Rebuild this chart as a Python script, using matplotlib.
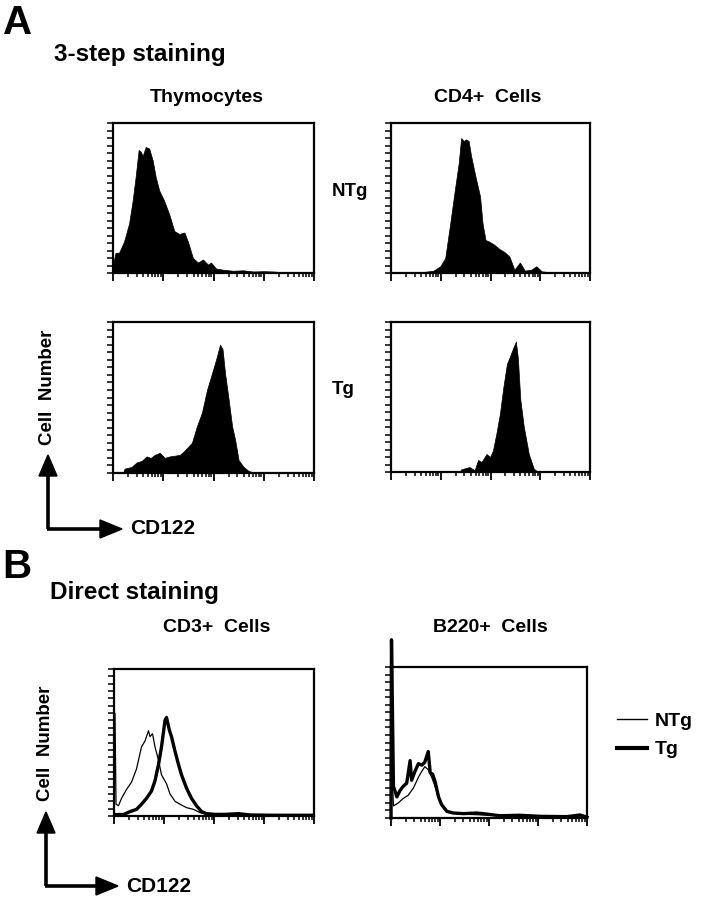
import numpy as np
import matplotlib
matplotlib.use("Agg")
import matplotlib.pyplot as plt
from matplotlib.ticker import LogLocator, NullFormatter, MultipleLocator
from matplotlib.patches import Polygon

plt.rcParams['font.family'] = ['Liberation Sans', 'DejaVu Sans']
plt.rcParams['font.weight'] = 'bold'

# ---- data: x in log decades of CD122 fluorescence, y in % of axis height ----
# A, 3-step staining
thy_ntg_x = [0, 0.05, 0.12, 0.22, 0.32, 0.39, 0.45, 0.51, 0.55, 0.59, 0.65, 0.72, 0.79, 0.85,
             0.92, 1.02, 1.12, 1.22, 1.32, 1.42, 1.49, 1.59, 1.69, 1.79, 1.89, 1.95, 2.05,
             2.19, 2.39, 2.59, 2.79, 2.99, 3.19, 3.45, 4.0]
thy_ntg_y = [5.6, 13.5, 13.5, 21, 33, 48, 64, 82, 81, 78, 84, 83, 75, 64,
             55, 48, 39, 28, 26, 27, 21, 10, 7, 9, 5.6, 7, 3,
             2.2, 1.5, 1.8, 1, 1.2, 1, 0.3, 0]

cd4_ntg_x = [0, 0.5, 0.65, 0.85, 0.99, 1.09, 1.19, 1.29, 1.36, 1.41, 1.46, 1.51, 1.56, 1.61,
             1.70, 1.79, 1.84, 1.90, 1.97, 2.07, 2.18, 2.28, 2.38, 2.48, 2.59, 2.69, 2.82,
             2.92, 3.03, 3.23, 3.5, 4.0]
cd4_ntg_y = [0, 0, 0.7, 1.5, 4.5, 10, 33, 57, 73, 90, 88, 89, 88, 78,
             64, 51, 33, 22, 21, 19, 16, 14, 11, 2.2, 7, 1.6, 2.2,
             4.5, 1.1, 0.4, 0, 0]

thy_tg_x = [0, 0.2, 0.23, 0.37, 0.47, 0.57, 0.67, 0.75, 0.83, 0.93, 1.03, 1.13, 1.33, 1.43,
            1.57, 1.67, 1.77, 1.87, 1.97, 2.05, 2.13, 2.18, 2.23, 2.30, 2.37, 2.43, 2.50,
            2.60, 2.70, 2.83, 4.0]
thy_tg_y = [0, 0, 2.9, 4, 7, 8, 11, 10, 12, 13.4, 10, 11, 12, 15,
            20, 31, 40, 55, 66, 75, 85, 82, 66, 49, 31, 22, 8.5,
            4, 1.3, 0.2, 0]

cd4_tg_x = [0, 1.38, 1.41, 1.58, 1.68, 1.75, 1.82, 1.92, 1.99, 2.05, 2.12, 2.19, 2.26, 2.33,
            2.39, 2.46, 2.51, 2.55, 2.60, 2.67, 2.77, 2.87, 2.94, 3.0, 4.0]
cd4_tg_y = [0, 0, 1.8, 3.3, 1.1, 8, 6.7, 12, 10, 14.4, 26, 39, 57, 72,
            77, 83, 87, 76, 48, 30, 12, 2.2, 0.4, 0, 0]

# B, direct staining
cd3_ntg_x = [0, 0.02, 0.04, 0.09, 0.15, 0.25, 0.35, 0.45, 0.55, 0.62, 0.69, 0.72, 0.77, 0.82,
             0.89, 0.95, 1.05, 1.12, 1.22, 1.32, 1.45, 1.59, 1.72, 1.85, 2.05, 2.5, 3.0, 4.0]
cd3_ntg_y = [1, 70, 8, 7, 12, 18, 23, 32, 47, 51, 58, 54, 56, 47,
             38, 28, 22, 15, 10, 8, 5.7, 4.5, 2.3, 1.1, 0.7, 0.3, 0.3, 0.3]
cd3_tg_x = [0, 0.19, 0.32, 0.45, 0.55, 0.65, 0.75, 0.82, 0.89, 0.95, 1.02, 1.05, 1.11, 1.15,
            1.22, 1.29, 1.35, 1.45, 1.55, 1.65, 1.75, 1.85, 2.02, 2.22, 2.49, 2.72, 3.2, 4.0]
cd3_tg_y = [1, 1, 3, 4.5, 8, 12, 17, 24, 35, 47, 65, 67, 58, 54,
            44, 35, 28, 19, 12, 7, 3, 1.6, 1.1, 1.1, 1.6, 0.7, 0.5, 0.5]

b220_ntg_x = [0, 0.01, 0.05, 0.15, 0.25, 0.35, 0.46, 0.56, 0.63, 0.69, 0.76, 0.83, 0.90, 0.97,
              1.07, 1.20, 1.5, 1.9, 2.4, 3.0, 3.6, 4.0]
b220_ntg_y = [0, 40, 8, 10, 13, 15, 20, 27, 31, 34, 32, 27, 21, 13,
              6.6, 3.3, 2.5, 2, 1.5, 1, 0.8, 0.5]
b220_tg_x = [0, 0.01, 0.05, 0.12, 0.18, 0.25, 0.32, 0.39, 0.42, 0.49, 0.56, 0.63, 0.69, 0.76,
             0.80, 0.85, 0.90, 0.97, 1.03, 1.14, 1.27, 1.48, 1.75, 1.95, 2.22, 2.63, 3.04,
             3.59, 3.86, 4.0]
b220_tg_y = [0, 118, 21, 14, 18, 21, 23, 38, 25, 31, 36, 35, 37, 44,
             30, 29, 24, 14, 9, 4.4, 3.3, 2.9, 3.3, 2.6, 1.5, 1.8, 1.1,
             0.9, 2, 0.5]

W, H = 701, 900
fig = plt.figure(figsize=(W / 100, H / 100), dpi=100)


def panel(left, top, right, bottom):
    ax = fig.add_axes([left / W, 1 - bottom / H, (right - left) / W, (bottom - top) / H])
    ax.set_xscale('log')
    ax.set_xlim(1, 1e4)
    ax.set_ylim(0, 100)
    ax.xaxis.set_major_locator(LogLocator(base=10, numticks=10))
    ax.xaxis.set_minor_locator(LogLocator(base=10, subs=range(2, 10), numticks=10))
    ax.xaxis.set_major_formatter(NullFormatter())
    ax.xaxis.set_minor_formatter(NullFormatter())
    ax.yaxis.set_major_locator(MultipleLocator(5))
    ax.set_yticklabels([])
    ax.tick_params(axis='x', which='major', direction='out', length=6, width=1.3)
    ax.tick_params(axis='x', which='minor', direction='out', length=3, width=1.1)
    ax.tick_params(axis='y', direction='out', length=4, width=1.1)
    for s in ax.spines.values():
        s.set_linewidth(1.6)
    return ax


def dec(x):
    return 10 ** np.asarray(x, dtype=float)


ax1 = panel(113, 123, 314, 273)
ax1.fill_between(dec(thy_ntg_x), thy_ntg_y, color='black', lw=0.5)
ax2 = panel(391, 123, 590, 273)
ax2.fill_between(dec(cd4_ntg_x), cd4_ntg_y, color='black', lw=0.5)
ax3 = panel(113, 322, 314, 473)
ax3.fill_between(dec(thy_tg_x), thy_tg_y, color='black', lw=0.5)
ax4 = panel(391, 322, 590, 472)
ax4.fill_between(dec(cd4_tg_x), cd4_tg_y, color='black', lw=0.5)

ax5 = panel(114, 669, 314, 816)
ax5.plot(dec(cd3_ntg_x), cd3_ntg_y, color='black', lw=0.9)
ax5.plot(dec(cd3_tg_x), cd3_tg_y, color='black', lw=2.4)
ax6 = panel(391, 667, 587, 818)
ax6.plot(dec(b220_ntg_x), b220_ntg_y, color='black', lw=0.9)
ax6.plot(dec(b220_tg_x), b220_tg_y, color='black', lw=2.4, clip_on=False)

# overlay in pixel coordinates for labels and arrows
ov = fig.add_axes([0, 0, 1, 1], zorder=-1)
ov.set_xlim(0, W)
ov.set_ylim(H, 0)
ov.axis('off')

ov.text(3, 34, "A", fontsize=29, fontweight='bold', va='baseline')
ov.text(54, 61, "3-step staining", fontsize=17.5, fontweight='bold', va='baseline')
ov.text(207, 98, "Thymocytes", fontsize=14, fontweight='bold', ha='center', va='center')
ov.text(488, 98, "CD4+  Cells", fontsize=14, fontweight='bold', ha='center', va='center')
ov.text(350, 192, "NTg", fontsize=13.5, fontweight='bold', ha='center', va='center')
ov.text(343, 390, "Tg", fontsize=13.5, fontweight='bold', ha='center', va='center')

ov.text(2, 578, "B", fontsize=29, fontweight='bold', va='baseline')
ov.text(50, 599, "Direct staining", fontsize=17.5, fontweight='bold', va='baseline')
ov.text(217, 628, "CD3+  Cells", fontsize=14, fontweight='bold', ha='center', va='center')
ov.text(490, 628, "B220+  Cells", fontsize=14, fontweight='bold', ha='center', va='center')

# legend for panel B
ov.plot([617, 647], [719, 719], color='black', lw=1.0)
ov.plot([617, 647], [748, 748], color='black', lw=3.0)
ov.text(655, 721, "NTg", fontsize=14, fontweight='bold', va='center')
ov.text(655, 750, "Tg", fontsize=14, fontweight='bold', va='center')


def axis_arrows(x0, y0, ytip, xtip, ylab_y):
    ov.plot([x0, x0], [y0, ytip + 18], color='black', lw=2.6, solid_capstyle='butt')
    ov.plot([x0 - 1.3, xtip - 18], [y0, y0], color='black', lw=2.6, solid_capstyle='butt')
    ov.add_patch(Polygon([[x0, ytip], [x0 - 9, ytip + 21], [x0 + 9, ytip + 21]],
                         closed=True, color='black'))
    ov.add_patch(Polygon([[xtip, y0], [xtip - 22, y0 - 9], [xtip - 22, y0 + 9]],
                         closed=True, color='black'))
    ov.text(xtip + 8, y0, "CD122", fontsize=15, fontweight='bold', va='center')
    ov.text(x0 - 1, ylab_y, "Cell  Number", fontsize=13.5, fontweight='bold',
            rotation=90, ha='center', va='center')


axis_arrows(48, 529, 455, 122, 387)
axis_arrows(46, 886, 812, 118, 743)

fig.savefig("out.png", dpi=100)
